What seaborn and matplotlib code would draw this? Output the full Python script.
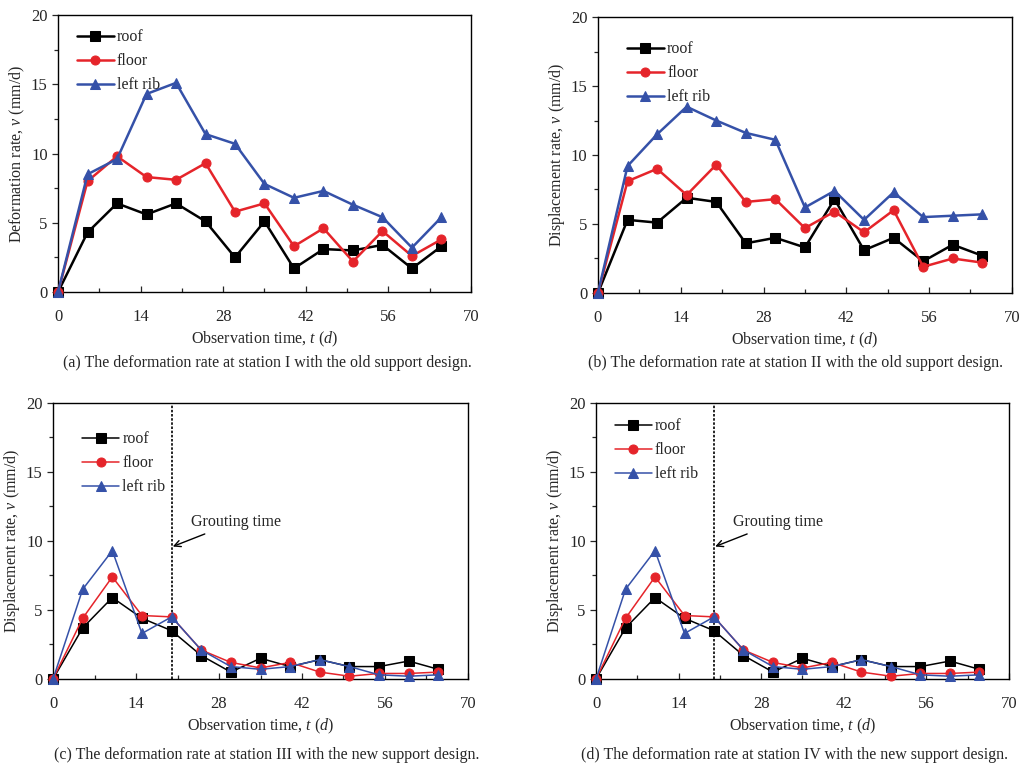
import numpy as np
import pandas as pd
import matplotlib
matplotlib.use("Agg")
import matplotlib.pyplot as plt
import seaborn as sns

# Observation time (d)
t = [0, 5, 10, 15, 20, 25, 30, 35, 40, 45, 50, 55, 60, 65]

# (a) station I, old support
a_roof = [0, 4.3, 6.4, 5.6, 6.4, 5.1, 2.5, 5.1, 1.7, 3.1, 3.0, 3.4, 1.7, 3.3]
a_floor = [0, 8.0, 9.8, 8.3, 8.1, 9.3, 5.8, 6.4, 3.3, 4.6, 2.2, 4.4, 2.6, 3.8]
a_rib = [0, 8.5, 9.6, 14.3, 15.1, 11.4, 10.7, 7.8, 6.8, 7.3, 6.3, 5.4, 3.2, 5.4]

# (b) station II, old support
b_roof = [0, 5.3, 5.1, 6.9, 6.6, 3.6, 4.0, 3.3, 6.8, 3.1, 4.0, 2.3, 3.5, 2.7]
b_floor = [0, 8.1, 9.0, 7.1, 9.3, 6.6, 6.8, 4.7, 5.9, 4.4, 6.0, 1.9, 2.5, 2.2]
b_rib = [0, 9.2, 11.5, 13.5, 12.5, 11.6, 11.1, 6.2, 7.4, 5.3, 7.3, 5.5, 5.6, 5.7]

# (c) station III and (d) station IV, new support
c_roof = [0, 3.7, 5.9, 4.4, 3.5, 1.7, 0.5, 1.5, 0.9, 1.4, 0.9, 0.9, 1.3, 0.7]
c_floor = [0, 4.4, 7.4, 4.6, 4.5, 2.1, 1.2, 0.8, 1.2, 0.5, 0.2, 0.4, 0.4, 0.5]
c_rib = [0, 6.5, 9.3, 3.3, 4.5, 2.1, 0.9, 0.7, 0.9, 1.4, 0.9, 0.3, 0.2, 0.3]

labels = ["roof", "floor", "left rib"]
colors = ["black", "#E5242A", "#3551A8"]
markers = ["s", "o", "^"]
grouting_t = 20

sns.set_style("ticks")
plt.rcParams["font.family"] = ["Liberation Serif", "DejaVu Serif"]
plt.rcParams["mathtext.fontset"] = "custom"
plt.rcParams["mathtext.rm"] = "Liberation Serif"
plt.rcParams["mathtext.it"] = "Liberation Serif:italic"

fig = plt.figure(figsize=(10.22, 7.66), dpi=100)

panels = [
    dict(pos=[0.0568, 0.6188, 0.404, 0.3616], series=[a_roof, a_floor, a_rib],
         ylabel="Deformation rate, $v$ (mm/d)", lw=1.8, grout=False,
         leg=(0.03, 0.972),
         cap="(a) The deformation rate at station I with the old support design.",
         cap_xy=(267, 363)),
    dict(pos=[0.5851, 0.6175, 0.405, 0.3603], series=[b_roof, b_floor, b_rib],
         ylabel="Displacement rate, $v$ (mm/d)", lw=1.8, grout=False,
         leg=(0.055, 0.935),
         cap="(b) The deformation rate at station II with the old support design.",
         cap_xy=(795, 363)),
    dict(pos=[0.0519, 0.1136, 0.406, 0.3603], series=[c_roof, c_floor, c_rib],
         ylabel="Displacement rate, $v$ (mm/d)", lw=1.1, grout=True,
         leg=(0.055, 0.92),
         cap="(c) The deformation rate at station III with the new support design.",
         cap_xy=(267, 755)),
    dict(pos=[0.5832, 0.1136, 0.404, 0.3603], series=[c_roof, c_floor, c_rib],
         ylabel="Displacement rate, $v$ (mm/d)", lw=1.1, grout=True,
         leg=(0.03, 0.968),
         cap="(d) The deformation rate at station IV with the new support design.",
         cap_xy=(794, 755)),
]

for p in panels:
    ax = fig.add_axes(p["pos"])
    for vals, lab, col, mk in zip(p["series"], labels, colors, markers):
        sns.lineplot(x=t, y=vals, ax=ax, color=col, marker=mk, markersize=6.5,
                     markeredgecolor=col, linewidth=p["lw"], label=lab,
                     clip_on=False, zorder=3)
    ax.set_xlim(0, 70)
    ax.set_ylim(0, 20)
    ax.set_xticks(np.arange(0, 71, 14))
    ax.set_xticks(np.arange(7, 71, 14), minor=True)
    ax.set_yticks(np.arange(0, 21, 5))
    ax.set_yticks(np.arange(2.5, 20, 5), minor=True)
    ax.tick_params(axis="x", which="both", direction="in", pad=12, labelsize=12)
    ax.tick_params(axis="y", which="both", direction="out", labelsize=12)
    ax.tick_params(which="major", length=4, width=0.9)
    ax.tick_params(which="minor", length=3, width=0.9)
    for s in ax.spines.values():
        s.set_linewidth(1.0)
        s.set_color("black")
    ax.set_xlabel("Observation time, $t$ ($d$)", fontsize=11.5, labelpad=4)
    ax.set_ylabel(p["ylabel"], fontsize=11.5, labelpad=3)
    if p["grout"]:
        ax.axvline(grouting_t, color="black", linestyle=(0, (1.5, 1)), linewidth=1.2, zorder=2)
        ax.annotate("Grouting time", xy=(grouting_t + 0.2, 9.6), xytext=(23.3, 11.4),
                    fontsize=11.5, va="center", ha="left",
                    arrowprops=dict(arrowstyle="->", color="black", lw=1.0,
                                    shrinkA=2, shrinkB=0))
    ax.legend(loc="upper left", bbox_to_anchor=p["leg"], frameon=False,
              fontsize=11.5, handlelength=2.3, handletextpad=0.2,
              labelspacing=0.5, borderaxespad=0)
    fig.text(p["cap_xy"][0] / 1022, 1 - p["cap_xy"][1] / 766, p["cap"],
             ha="center", va="center", fontsize=11.5)

fig.savefig("out.png", dpi=100, facecolor="white")
